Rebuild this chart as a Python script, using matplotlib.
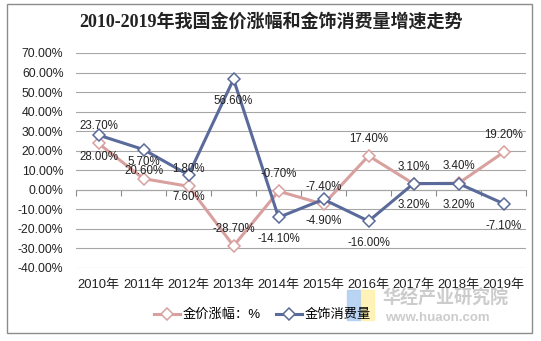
import numpy as np
import matplotlib
matplotlib.use('Agg')
import matplotlib.pyplot as plt
from matplotlib.patches import Rectangle

plt.rcParams['font.family'] = ['Liberation Sans', 'Noto Sans CJK SC']

# data
years = ['2010年', '2011年', '2012年', '2013年', '2014年',
         '2015年', '2016年', '2017年', '2018年', '2019年']
gold_price = [23.7, 5.7, 1.8, -28.7, -0.7, -7.4, 17.4, 3.1, 3.4, 19.2]
jewelry = [28.0, 20.6, 7.6, 56.6, -14.1, -4.9, -16.0, 3.2, 3.2, -7.1]
yticks = [70, 60, 50, 40, 30, 20, 10, 0, -10, -20, -30, -40]

pink = '#D8A09E'
blue = '#5A6A9A'

fig = plt.figure(figsize=(5.41, 3.41), dpi=100)
ax = fig.add_axes([0.1405, 0.2141, 0.832, 0.6305])

x = np.arange(len(years))
l1, = ax.plot(x, gold_price, color=pink, lw=2.2, marker='D', ms=6.5,
              mfc='white', mec=pink, mew=1.1, label='金价涨幅：%')
l2, = ax.plot(x, jewelry, color=blue, lw=2.2, marker='D', ms=6.5,
              mfc='white', mec=blue, mew=1.1, label='金饰消费量')

# data labels
for xi, v in zip(x, gold_price):
    ax.annotate('%.2f%%' % v, (xi, v), xytext=(0, 12.3), textcoords='offset points',
                ha='center', va='center', fontsize=8.3, color='#222222')
for xi, v in zip(x, jewelry):
    ax.annotate('%.2f%%' % v, (xi, v), xytext=(0, -15.8), textcoords='offset points',
                ha='center', va='center', fontsize=8.3, color='#222222')

ax.set_xlim(-0.5, 9.5)
ax.set_ylim(-40, 70)
ax.set_yticks(yticks)
ax.set_yticklabels(['%.2f%%' % t for t in yticks], fontsize=8.8, color='#222222')
ax.yaxis.grid(True, color='#A6A6A6', lw=0.8)
ax.set_axisbelow(True)
ax.tick_params(axis='y', length=0, pad=9)

ax.set_xticks(x)
ax.set_xticklabels(years, fontsize=9.4, color='#222222')
ax.tick_params(axis='x', length=0, pad=8)
for s in ax.spines.values():
    s.set_visible(False)

# category axis at zero with tick marks
sec = ax.secondary_xaxis(40 / 110)
sec.set_xticks(np.arange(-0.5, 10, 1))
sec.tick_params(length=4, width=0.8, color='#8C8C8C', labelbottom=False)
sec.spines['bottom'].set_color('#8C8C8C')
sec.spines['bottom'].set_linewidth(0.8)

fig.text(0.5, 0.935, '2010-2019年我国金价涨幅和金饰消费量增速走势',
         ha='center', va='center', fontsize=13, fontweight='bold',
         family=['Liberation Serif', 'Noto Sans CJK SC'], color='#222222')

fig.legend(handles=[l1, l2], loc='center', bbox_to_anchor=(0.485, 0.076),
           ncol=2, frameon=False, fontsize=9.5, handlelength=2.0,
           columnspacing=1.1, handletextpad=0.2)

# watermark
fig.patches.append(Rectangle((347 / 541, 1 - 320 / 341), 13 / 541, 30 / 341,
                             transform=fig.transFigure, color='#A9CBF2', alpha=0.8))
fig.patches.append(Rectangle((361 / 541, 1 - 320 / 341), 13 / 541, 30 / 341,
                             transform=fig.transFigure, color='#FFF0A8', alpha=0.8))
fig.text(0.707, 0.125, '华经产业研究院', fontsize=13, fontweight='bold',
         color='#CCCCCC', ha='left', va='center', family=['Noto Sans CJK SC'])
fig.text(0.712, 0.067, 'www.huaon.com', fontsize=9.5, fontweight='bold',
         color='#CCCCCC', ha='left', va='center')

# outer border
fig.patches.append(Rectangle((7 / 541, 1 - 333 / 341), 525 / 541, 329 / 341,
                             transform=fig.transFigure, fill=False,
                             edgecolor='#8C8C8C', lw=1))

fig.savefig('out.png', dpi=100)
